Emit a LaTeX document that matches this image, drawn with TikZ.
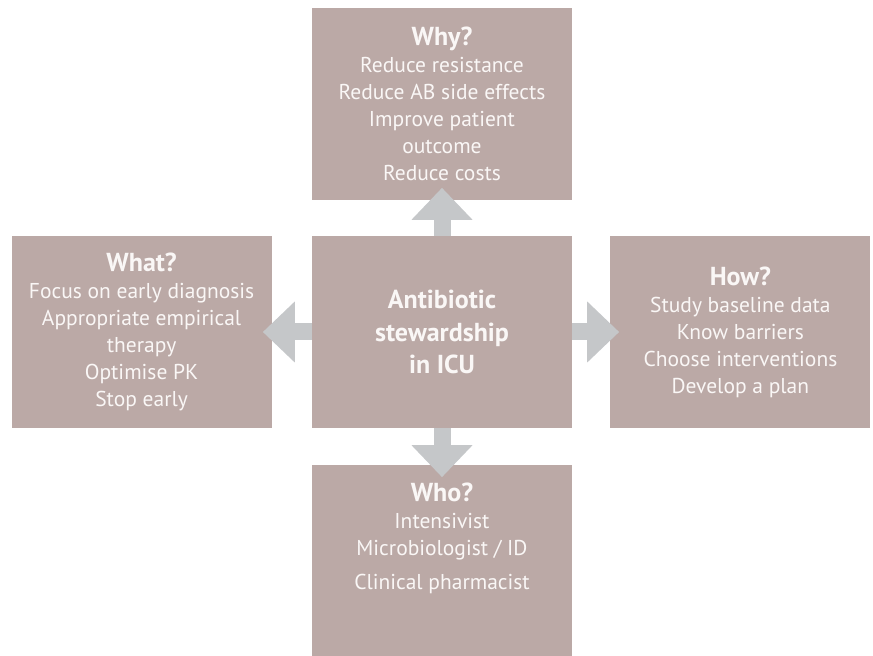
\documentclass[tikz,border=0pt]{standalone}
\usepackage{fontspec}
\setmainfont{PT Sans}
\usetikzlibrary{positioning,arrows.meta}

\definecolor{boxtaupe}{HTML}{BBA9A6}
\definecolor{arrowgrey}{HTML}{C5C7C9}
\definecolor{boxtext}{HTML}{FAF7F6}

\tikzset{
  panel/.style={fill=boxtaupe, minimum width=260pt, minimum height=192pt, inner sep=0pt,
    text=boxtext, align=center, font=\fontsize{21.5}{27}\selectfont},
  paneltext/.style={text=boxtext, align=center, inner sep=0pt, font=\fontsize{21.5}{27}\selectfont},
  blockarrow/.style={draw=arrowgrey, line width=17pt, -{Triangle[width=59pt,length=32pt]}, arrowgrey}
}
\newcommand{\headline}[1]{{\fontsize{26}{27}\selectfont\bfseries #1}}

\begin{document}
\begin{tikzpicture}
\useasboundingbox (0,0) rectangle (873pt,656pt);

\node[panel, font=\fontsize{26}{32.5}\selectfont\bfseries] (centre) at (442pt,324pt)
  {Antibiotic\\stewardship\\in ICU};
\node[panel, above=36pt of centre] (why)
  {\headline{Why?}\\Reduce resistance\\Reduce AB side effects\\Improve patient\\outcome\\Reduce costs};
\node[panel, left=40pt of centre] (what)
  {\headline{What?}\\Focus on early diagnosis\\Appropriate empirical\\therapy\\Optimise PK\\Stop early};
\node[panel, right=38pt of centre] (how)
  {\headline{How?}\\Study baseline data\\Know barriers\\Choose interventions\\Develop a plan};
\node[panel, below=37pt of centre] (who) {};
\node[paneltext, anchor=north] (whotext) at ([yshift=-18pt]who.north)
  {\headline{Who?}\\Intensivist\\Microbiologist / ID\\[7pt]Clinical pharmacist};

% arrows sit over the gaps and bite into the outer boxes
\draw[blockarrow] (centre.north) -- ([yshift=12pt]why.south);
\draw[blockarrow] (centre.west) -- ([xshift=-9pt]what.east);
\draw[blockarrow] (centre.east) -- ([xshift=9pt]how.west);
\draw[blockarrow] (centre.south) -- ([yshift=-12pt]who.north);
\end{tikzpicture}
\end{document}
